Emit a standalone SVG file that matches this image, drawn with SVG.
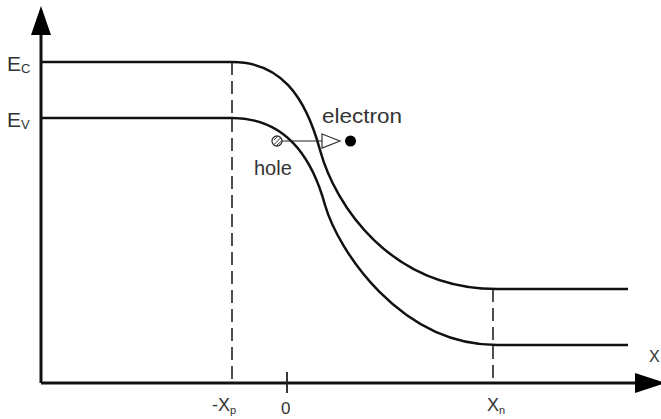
<svg xmlns="http://www.w3.org/2000/svg" width="661" height="419" viewBox="0 0 661 419">
<style>
.axis{stroke:#111;stroke-width:3;fill:none}
.band{stroke:#111;stroke-width:2.5;fill:none}
.dash{stroke:#222;stroke-width:1.6;stroke-dasharray:13,6;fill:none}
.thin{stroke:#222;stroke-width:1.2;fill:none}
text{font-family:"Liberation Sans",Arial,sans-serif;fill:#333}
</style>
<rect width="661" height="419" fill="#fff"/>
<g id="connectors">
<path class="axis" d="M41,383 V30"/>
<polygon points="41,6 31,35 51,35" fill="#000"/>
<path class="axis" d="M41,383 H640"/>
<polygon points="666,383 635,373 635,393" fill="#000"/>
<path class="dash" d="M232,62 V383"/>
<path class="dash" d="M493,289 V383"/>
<path class="thin" d="M287,372 V393" style="stroke-width:1.8"/>
</g>
<g id="conduction-band">
<path class="band" d="M41,62 H232 C280,62 305,95 320,150 C335,205 390,289 497,289 H628"/>
</g>
<g id="valence-band">
<path class="band" d="M41,118 H232 C280,118 310,150 325,205 C338,250 400,345 497,345 H628"/>
</g>
<g id="hole">
<circle cx="277" cy="141" r="5" fill="#fff" stroke="#333" stroke-width="1.3"/>
<path d="M274,144.5 L280.5,138 M274,140 L277.5,136.8 M276.5,145.5 L281.5,141" stroke="#333" stroke-width="1"/>
<text x="254" y="175" font-size="20">hole</text>
</g>
<g id="transition-arrow">
<path class="thin" d="M282,141 H322"/>
<polygon points="322,134 340,141 322,148" fill="#fff" stroke="#333" stroke-width="1.2"/>
</g>
<g id="electron">
<circle cx="350.5" cy="141" r="5.5" fill="#000"/>
<text x="322" y="123" font-size="21" textLength="80" lengthAdjust="spacingAndGlyphs">electron</text>
</g>
<g id="labels">
<text x="7" y="71" font-size="21">E<tspan font-size="13" dy="2">C</tspan></text>
<text x="7" y="127" font-size="21">E<tspan font-size="13" dy="2">V</tspan></text>
<text x="212" y="411" font-size="18">-X<tspan font-size="11" dy="3">p</tspan></text>
<text x="281" y="414" font-size="17">0</text>
<text x="487" y="411" font-size="18">X<tspan font-size="11" dy="3">n</tspan></text>
<text x="649" y="362" font-size="16">X</text>
</g>
</svg>
